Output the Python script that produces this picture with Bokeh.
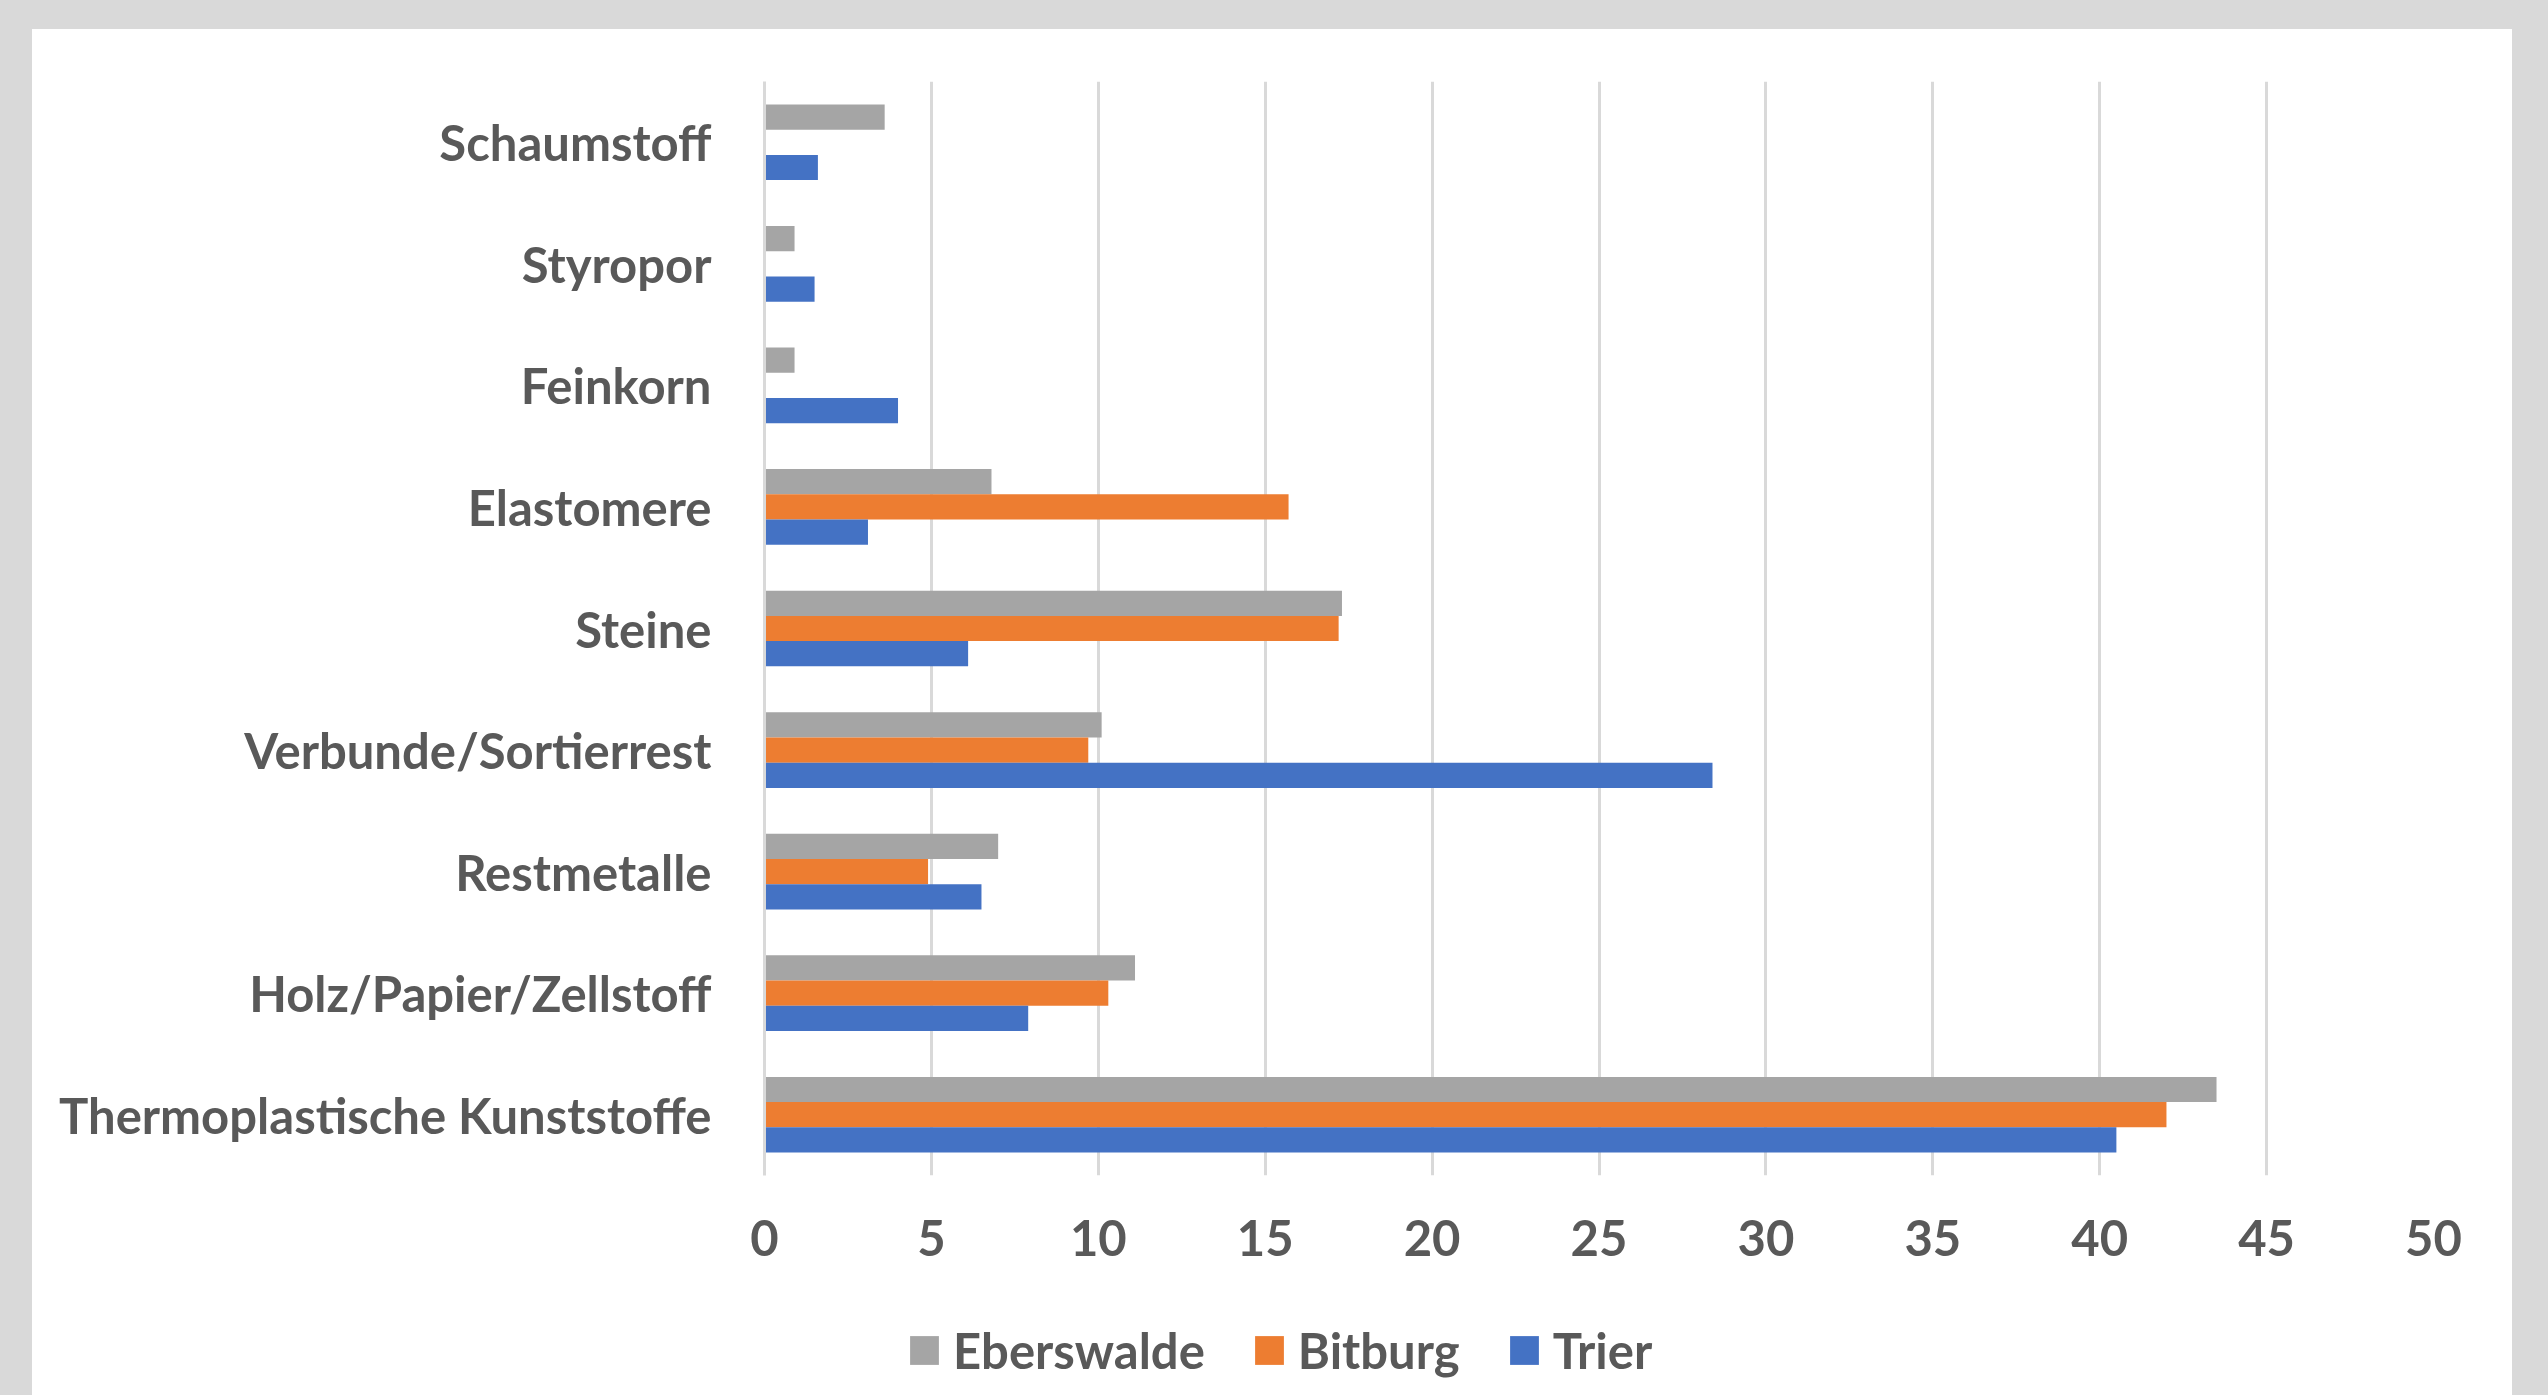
from bokeh.plotting import figure
from bokeh.models import FactorRange, FixedTicker, Legend, LegendItem, ColumnDataSource, Spacer
from bokeh.transform import dodge
from bokeh.layouts import column, row
from bokeh.embed import file_html
from bokeh.resources import INLINE

# Categories (bottom to top, as in the source spreadsheet order)
categories = [
    "Thermoplastische Kunststoffe",
    "Holz/Papier/Zellstoff",
    "Restmetalle",
    "Verbunde/Sortierrest",
    "Steine",
    "Elastomere",
    "Feinkorn",
    "Styropor",
    "Schaumstoff",
]
eberswalde = [43.5, 11.1, 7.0, 10.1, 17.3, 6.8, 0.9, 0.9, 3.6]
bitburg = [42.0, 10.3, 4.9, 9.7, 17.2, 15.7, 0.0, 0.0, 0.0]
trier = [40.5, 7.9, 6.5, 28.4, 6.1, 3.1, 4.0, 1.5, 1.6]
series_names = ["Eberswalde", "Bitburg", "Trier"]
series_colors = ["#A5A5A5", "#ED7D31", "#4472C4"]
x_ticks = [0, 5, 10, 15, 20, 25, 30, 35, 40, 45, 50]

FONT = "Lato"
TXT = "#595959"
FS = "49px"

source = ColumnDataSource(dict(cat=categories, Eberswalde=eberswalde, Bitburg=bitburg, Trier=trier))

p = figure(
    width=2480, height=1280,
    y_range=FactorRange(*categories),
    x_range=(0, 50),
    output_backend="svg", toolbar_location=None,
    min_border_left=732, min_border_right=79, min_border_top=52, min_border_bottom=134,
    background_fill_color="white", border_fill_color="white",
)
p.outline_line_color = None

bar_h = 1 / 4.82
offsets = [bar_h, 0.0, -bar_h]
for name, col, off in zip(series_names, series_colors, offsets):
    p.hbar(y=dodge("cat", off, range=p.y_range), right=name, left=0, height=bar_h,
           source=source, fill_color=col, line_color=None)

p.xaxis.ticker = FixedTicker(ticks=x_ticks)
p.xgrid.ticker = FixedTicker(ticks=x_ticks)
p.xgrid.grid_line_color = "#D9D9D9"
p.xgrid.grid_line_width = 3
p.ygrid.grid_line_color = None

for ax in (p.xaxis, p.yaxis):
    ax.major_tick_line_color = None
    ax.minor_tick_line_color = None
    ax.major_label_text_font = FONT
    ax.major_label_text_font_style = "bold"
    ax.major_label_text_font_size = FS
    ax.major_label_text_color = TXT
p.xaxis.axis_line_color = None
p.yaxis.axis_line_color = "#D9D9D9"
p.yaxis.axis_line_width = 3
p.yaxis.major_label_standoff = 47
p.xaxis.major_label_standoff = 38

# Legend in its own strip below the chart
lg = figure(
    width=2480, height=86, x_range=(0, 1), y_range=(0, 1),
    output_backend="svg", toolbar_location=None,
    x_axis_type=None, y_axis_type=None,
    min_border_left=732, min_border_right=79, min_border_top=0, min_border_bottom=0,
    background_fill_color=None, border_fill_color=None,
)
lg.outline_line_color = None
lg.xgrid.visible = False
lg.ygrid.visible = False
leg_renderers = []
for name, col in zip(series_names, series_colors):
    # placeholder glyphs outside the visible range, used only for the legend swatches
    r = lg.hbar(y=[-10], right=[0], left=0, height=0.1, fill_color=col, line_color=None)
    leg_renderers.append(r)

legend = Legend(
    items=[LegendItem(label=n, renderers=[r]) for n, r in zip(series_names, leg_renderers)],
    orientation="horizontal", location=(142, 16),
    padding=0, margin=0, border_line_color=None, background_fill_alpha=0,
    glyph_width=36, glyph_height=36, label_standoff=11, spacing=46,
    label_text_font=FONT, label_text_font_style="bold", label_text_font_size=FS,
    label_text_color=TXT,
)
lg.add_layout(legend, "center")

layout = column(
    Spacer(width=2548, height=29),
    row(
        Spacer(width=32, height=1366),
        column(p, lg, styles={"background-color": "white"}),
        Spacer(width=36, height=1366),
    ),
    styles={"background-color": "#D9D9D9"},
)

open("out.html", "w").write(file_html(layout, INLINE))
